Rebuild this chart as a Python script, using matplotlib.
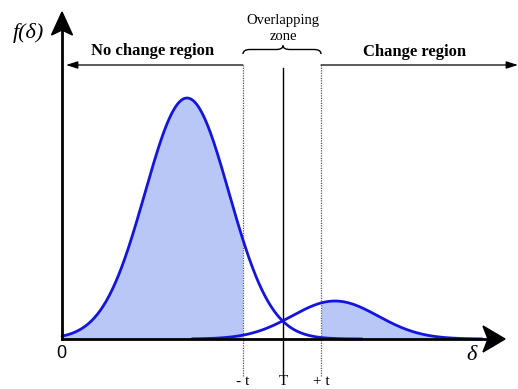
"""
Threshold diagram: distribution of the difference value delta for the
no-change and change classes, with the overlapping zone around T.
"""

from matplotlib import pyplot
from matplotlib.patches import Polygon, PathPatch
from matplotlib.path import Path
import numpy

# Gaussian parameters of the two class distributions (x: delta, y: f(delta))
no_change_mean = 125.0
no_change_sigma = 42.0
no_change_peak = 241.0

change_mean = 273.0
change_sigma = 43.0
change_peak = 38.0

# Threshold T and the band [T - t, T + t]
threshold_lo = 181.0
threshold = 221.0
threshold_hi = 259.0

bottom_labels = ['- t', 'T', '+ t']

BLUE = '#1414e0'
FILL = '#b9c7f6'
SERIF = 'Liberation Serif'


def gaussian(x, mean, sigma, peak):
    return peak * numpy.exp(-(x - mean) ** 2 / (2 * sigma ** 2))


fig = pyplot.figure(figsize=(5.18, 3.89), dpi=100)
ax = fig.add_axes([0, 0, 1, 1])
ax.set_xlim(-62, 456)
ax.set_ylim(-50, 339)
ax.axis('off')

# class curves and the shaded tails outside the overlapping zone
x1 = numpy.linspace(0, 300, 400)
y1 = gaussian(x1, no_change_mean, no_change_sigma, no_change_peak)
x2 = numpy.linspace(130, 420, 400)
y2 = gaussian(x2, change_mean, change_sigma, change_peak)

left = x1 <= threshold_lo
ax.fill_between(x1[left], 0, y1[left], color=FILL, lw=0, zorder=1)
right = x2 >= threshold_hi
ax.fill_between(x2[right], 0, y2[right], color=FILL, lw=0, zorder=1)
ax.plot(x1, y1, color=BLUE, lw=2.0, zorder=3, solid_capstyle='round')
ax.plot(x2, y2, color=BLUE, lw=2.0, zorder=3, solid_capstyle='round')

# coordinate axes with solid barbed heads
ax.plot([0, 0], [0, 312], color='black', lw=2.0, zorder=4)
ax.plot([0, 425], [0, 0], color='black', lw=2.0, zorder=4)
ax.add_patch(Polygon([(0, 327), (-10.5, 304), (0, 309), (10.5, 304)],
                     closed=True, color='black', zorder=5))
ax.add_patch(Polygon([(443, 0), (421, 13), (426, 0), (421, -13)],
                     closed=True, color='black', zorder=5))

# threshold markers
for xv in (threshold_lo, threshold_hi):
    ax.plot([xv, xv], [-37, 274], color='#555555', lw=0.9,
            linestyle=(0, (1, 1)), zorder=2)
ax.plot([threshold, threshold], [-37, 271], color='black', lw=1.0, zorder=2)

# region arrows
ax.annotate('', xy=(4, 274), xytext=(threshold_lo, 274),
            arrowprops=dict(arrowstyle='-|>,head_length=0.7,head_width=0.22',
                            color='black', lw=0.9, shrinkA=0, shrinkB=0))
ax.annotate('', xy=(456, 274), xytext=(threshold_hi, 274),
            arrowprops=dict(arrowstyle='-|>,head_length=0.7,head_width=0.22',
                            color='black', lw=0.9, shrinkA=0, shrinkB=0))

# curly brace over the overlapping zone
brace = Path(
    [(threshold_lo, 285), (threshold_lo, 289.5), (threshold_lo + 7, 289.5),
     (threshold - 7, 289.5),
     (threshold, 289.5), (threshold, 293.5),
     (threshold, 289.5), (threshold + 7, 289.5),
     (threshold_hi - 7, 289.5),
     (threshold_hi, 289.5), (threshold_hi, 285)],
    [Path.MOVETO, Path.CURVE3, Path.CURVE3,
     Path.LINETO,
     Path.CURVE3, Path.CURVE3,
     Path.CURVE3, Path.CURVE3,
     Path.LINETO,
     Path.CURVE3, Path.CURVE3])
ax.add_patch(PathPatch(brace, facecolor='none', edgecolor='black', lw=1.0))

# labels
ax.text(threshold, 319, 'Overlapping', ha='center', va='center',
        family=SERIF, fontsize=10.5)
ax.text(threshold, 303, 'zone', ha='center', va='center',
        family=SERIF, fontsize=10.5)
ax.text(91, 288, 'No change region', ha='center', va='center',
        family=SERIF, fontsize=12, fontweight='bold')
ax.text(353, 287, 'Change region', ha='center', va='center',
        family=SERIF, fontsize=12, fontweight='bold')
ax.text(-34, 306, 'f(δ)', ha='center', va='center',
        family=SERIF, fontsize=16, style='italic')
ax.text(410, -17, 'δ', ha='center', va='center',
        family=SERIF, fontsize=16, style='italic')
ax.text(-1, -14, '0', ha='center', va='center',
        family='Liberation Sans', fontsize=13)

for xv, label in zip((threshold_lo, threshold, threshold_hi), bottom_labels):
    ax.text(xv, -49, label, ha='center', va='bottom', family=SERIF,
            fontsize=11)

fig.savefig('out.png', dpi=100)
